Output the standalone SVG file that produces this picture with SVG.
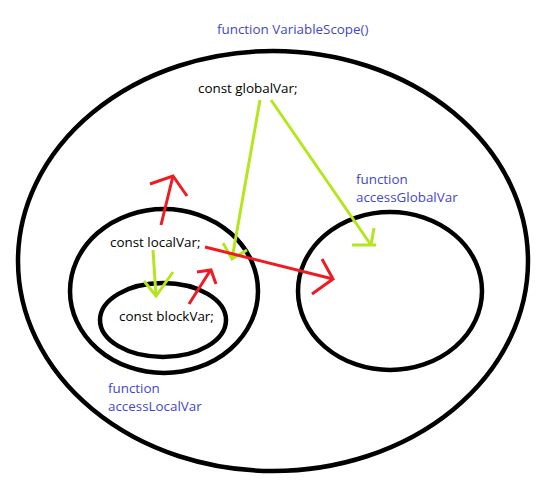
<svg xmlns="http://www.w3.org/2000/svg" width="541" height="490" viewBox="0 0 541 490">
<style>
.scope{fill:none;stroke:#000;stroke-width:4.5}
.lbl{font-family:"Open Sans","Noto Sans","DejaVu Sans",sans-serif;font-size:13.4px;fill:#000}
.fn{font-family:"Open Sans","Noto Sans","DejaVu Sans",sans-serif;font-size:13.4px;fill:#3f48cc}
.g{fill:none;stroke:#b5e61d;stroke-width:3;stroke-linecap:butt}
.r{fill:none;stroke:#ed1c24;stroke-width:3;stroke-linecap:butt}
</style>
<rect width="541" height="490" fill="#fff"/>
<g id="variableScope">
<ellipse class="scope" cx="273" cy="261" rx="255" ry="210"/>
<text class="fn" x="217" y="34">function VariableScope()</text>
<text class="lbl" x="198" y="93">const globalVar;</text>
</g>
<g id="accessLocalVar">
<ellipse class="scope" cx="164" cy="291" rx="94" ry="82"/>
<text class="fn" x="108" y="393">function</text>
<text class="fn" x="108" y="411">accessLocalVar</text>
<text class="lbl" x="110" y="247">const localVar;</text>
</g>
<g id="block">
<ellipse class="scope" cx="163" cy="320" rx="63" ry="37"/>
<text class="lbl" x="119" y="321">const blockVar;</text>
</g>
<g id="accessGlobalVar">
<ellipse class="scope" cx="390" cy="291" rx="92" ry="79"/>
<text class="fn" x="356" y="184">function</text>
<text class="fn" x="356" y="202">accessGlobalVar</text>
</g>
<g id="connectors">
<path class="g" d="M260 100 L232 259 M223 243 L232 259 L247 250"/>
<path class="g" d="M271 100 L371 245 M352 245 L376 245 M374 228 L371 245"/>
<path class="g" d="M153 250 L156 296 M144 281 L156 296 L173 272"/>
<path class="r" d="M161 225 L173 176 M150 184 L173 176 L187 196"/>
<path class="r" d="M189 304 L210 271 M197 272 L211 270 L216 284"/>
<path class="r" d="M205 247 L333 279 M322 259 L333 279 L312 294"/>
</g>
</svg>
